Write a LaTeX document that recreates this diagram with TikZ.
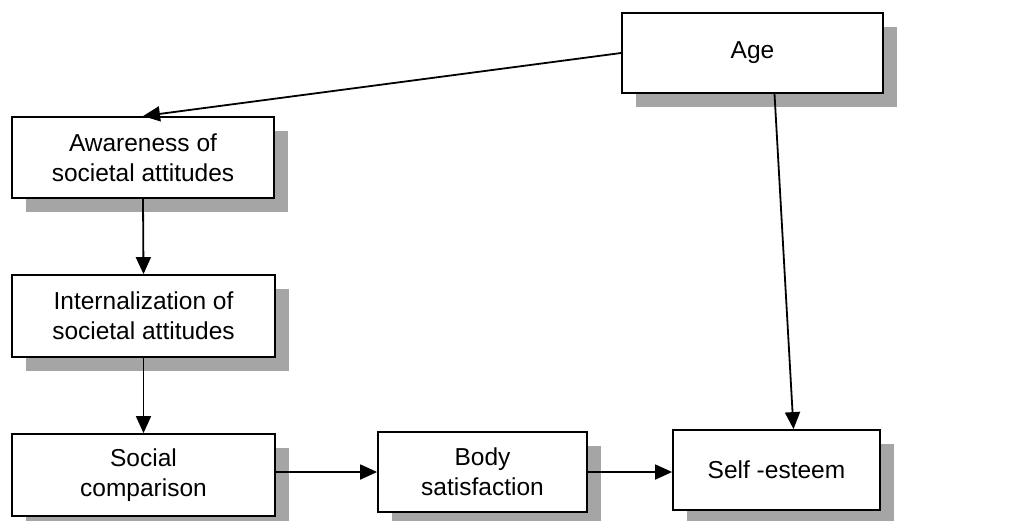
\documentclass[tikz,border=0pt]{standalone}
\usepackage{fontspec}
\setmainfont{Liberation Sans}
\usetikzlibrary{arrows.meta,shadows}
\definecolor{shadowgray}{RGB}{165,165,165}
\tikzset{
    factor/.style={draw, line width=1.8pt, fill=white, align=center,
        inner sep=0pt, font=\fontsize{24.5}{30}\selectfont,
        drop shadow={shadow xshift=14pt, shadow yshift=-14pt, fill=shadowgray, opacity=1}},
    link/.style={line width=1.8pt, -{Triangle[length=17pt,width=15pt]}}
}
\begin{document}
\begin{tikzpicture}[x=1pt,y=-1pt]
    \useasboundingbox (0,0) rectangle (1019,520);
    \node[factor, minimum width=261pt, minimum height=80pt] (age) at (752.5,53) {Age};
    \node[factor, minimum width=262pt, minimum height=81pt] (aware) at (143,157.5) {Awareness of\\societal attitudes};
    \node[factor, minimum width=263pt, minimum height=82pt] (intern) at (143.5,316) {Internalization of\\societal attitudes};
    \node[factor, minimum width=263pt, minimum height=82pt] (social) at (143.5,475) {Social\\comparison};
    \node[factor, minimum width=209pt, minimum height=80pt] (body) at (482.5,472) {Body\\satisfaction};
    \node[factor, minimum width=207pt, minimum height=80pt] (self) at (776.5,470) {Self -esteem};
    \draw[link] (age.west) -- (aware.north);
    \draw[link] ([xshift=22pt]age.south) -- ([xshift=17pt]self.north);
    \draw[link] (aware.south) -- (intern.north);
    \draw[link] (intern.south) -- (social.north);
    \draw[link] (social.east |- body.west) -- (body.west);
    \draw[link] (body.east) -- (self.west |- body.east);
\end{tikzpicture}
\end{document}
